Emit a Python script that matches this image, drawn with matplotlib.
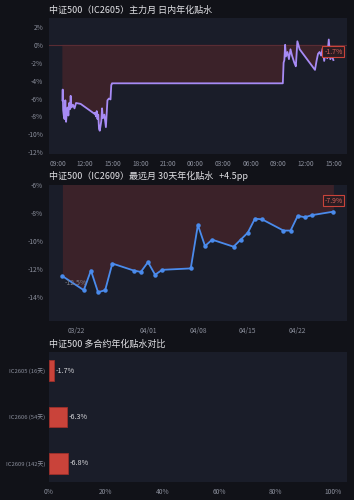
import numpy as np
import pandas as pd
import matplotlib
matplotlib.use('Agg')
import matplotlib.pyplot as plt
import matplotlib.dates as mdates
from matplotlib.ticker import FuncFormatter, MultipleLocator

plt.rcParams['font.family'] = ['Noto Sans CJK SC', 'DejaVu Sans']
plt.rcParams['axes.unicode_minus'] = False

# 颜色
BG = '#111218'
FACE = '#1a1d29'
TXT = '#e2e2e6'
TICK = '#8b8f9c'
RED = '#c9433a'
FILL = '#c0392b'

# 主力月 日内数据（两个交易日）
intra_time = [
    '04-27 09:31', '04-27 09:33', '04-27 09:36', '04-27 09:40', '04-27 09:45',
    '04-27 09:50', '04-27 09:55', '04-27 10:00', '04-27 10:05', '04-27 10:10',
    '04-27 10:15', '04-27 10:20', '04-27 10:25', '04-27 10:30', '04-27 10:40',
    '04-27 10:50', '04-27 11:00', '04-27 11:30',
    '04-27 13:00', '04-27 13:05', '04-27 13:10', '04-27 13:15', '04-27 13:20',
    '04-27 13:25', '04-27 13:30', '04-27 13:35', '04-27 13:45', '04-27 13:50',
    '04-27 13:55', '04-27 14:05', '04-27 14:15', '04-27 14:25', '04-27 14:35',
    '04-27 14:45', '04-27 14:50', '04-27 14:55', '04-27 15:00',
    '04-28 09:30', '04-28 09:35', '04-28 09:40', '04-28 09:45', '04-28 09:50',
    '04-28 10:00', '04-28 10:10', '04-28 10:20', '04-28 10:30', '04-28 10:45',
    '04-28 10:55', '04-28 11:05', '04-28 11:20',
    '04-28 13:00', '04-28 13:10', '04-28 13:20', '04-28 13:30', '04-28 13:40',
    '04-28 13:50', '04-28 14:00', '04-28 14:10', '04-28 14:20', '04-28 14:30',
    '04-28 14:40', '04-28 14:50', '04-28 15:00',
]
intra_val = [
    -6.2, -5.0, -7.3, -7.9, -8.3,
    -6.2, -8.6, -7.5, -7.0, -7.9,
    -6.5, -7.2, -5.7, -7.0, -6.7,
    -7.1, -6.5, -6.6,
    -7.7, -7.6, -8.0, -7.4, -8.3,
    -7.8, -9.4, -9.6, -8.5, -7.1,
    -8.2, -7.8, -9.2, -6.2, -6.0,
    -6.1, -4.5, -4.3, -4.3,
    -4.3, -2.0, -1.7, 0.0, -1.3,
    -0.8, -1.6, -0.5, -1.2, -2.0,
    -2.4, 0.4, -0.5,
    -2.8, -1.8, -1.0, -0.8, -1.2,
    -0.4, -1.8, -0.6, -1.5, 0.6,
    -1.6, -1.2, -1.7,
]

# 最远月 30天数据
far_date = [
    '03-20', '03-23', '03-24', '03-25', '03-26', '03-27', '03-30', '03-31',
    '04-01', '04-02', '04-03', '04-07', '04-08', '04-09', '04-10', '04-13',
    '04-14', '04-15', '04-16', '04-17', '04-20', '04-21', '04-22', '04-23',
    '04-24', '04-27',
]
far_val = [
    -12.5, -13.5, -12.1, -13.65, -13.5, -11.6, -12.1, -12.2,
    -11.5, -12.4, -12.05, -11.95, -8.85, -10.35, -9.9, -10.4,
    -9.9, -9.4, -8.4, -8.45, -9.25, -9.25, -8.2, -8.3,
    -8.15, -7.9,
]
far_change = '+4.5pp'

# 多合约对比
contracts = ['IC2605 (16天)', 'IC2606 (54天)', 'IC2609 (142天)']
contract_val = [-1.7, -6.3, -6.8]

t1 = pd.to_datetime(['2026-' + s for s in intra_time])
v1 = np.array(intra_val)
t2 = pd.to_datetime(['2026-' + s for s in far_date])
v2 = np.array(far_val)

fig = plt.figure(figsize=(3.54, 5.0), dpi=100, facecolor=BG)
ax1 = fig.add_axes([0.138, 0.692, 0.842, 0.272])
ax2 = fig.add_axes([0.138, 0.358, 0.842, 0.272])
ax3 = fig.add_axes([0.138, 0.036, 0.842, 0.260])

pct = FuncFormatter(lambda v, p: f'{v:.0f}%')

for ax in (ax1, ax2, ax3):
    ax.set_facecolor(FACE)
    for s in ax.spines.values():
        s.set_visible(False)
    ax.tick_params(colors=TICK, labelsize=4.8, length=0, pad=4)


def tag(ax, x, y, text, dy):
    ax.annotate(text, (x, y), xytext=(0, dy), textcoords='offset points',
                ha='center', va='center', fontsize=5, color='#d8625a',
                bbox=dict(boxstyle='square,pad=0.25', fc='#2a1c22', ec=RED, lw=0.8))


# 图1：日内
ax1.fill_between(t1, v1, 0, where=v1 < 0, interpolate=True, color=FILL, alpha=0.2, lw=0)
ax1.axhline(0, color='#5a2c33', lw=0.8)
ax1.plot(t1, v1, color='#a78bf5', lw=1.3)
ax1.set_ylim(-12.2, 3.0)
ax1.yaxis.set_major_locator(MultipleLocator(2))
ax1.yaxis.set_major_formatter(pct)
ax1.xaxis.set_major_locator(mdates.HourLocator(byhour=range(0, 24, 3)))
ax1.xaxis.set_major_formatter(mdates.DateFormatter('%H:%M'))
tag(ax1, t1[-1], v1[-1], f'{v1[-1]:.1f}%', 6)
ax1.set_title('中证500（IC2605）主力月 日内年化贴水', loc='left', fontsize=6.5,
              color=TXT, pad=4)

# 图2：最远月
ax2.fill_between(t2, v2, 0, color=FILL, alpha=0.2, lw=0)
ax2.plot(t2, v2, color='#4a8bec', lw=1.3, marker='o', ms=2.2)
ax2.set_ylim(-15.7, -6.0)
ax2.yaxis.set_major_locator(MultipleLocator(2))
ax2.yaxis.set_major_formatter(pct)
ax2.set_xticks(pd.to_datetime(['2026-03-22', '2026-04-01', '2026-04-08',
                               '2026-04-15', '2026-04-22']))
ax2.xaxis.set_major_formatter(mdates.DateFormatter('%m/%d'))
ax2.annotate(f'{v2[0]:.1f}%', (t2[0], v2[0]), xytext=(10, -5),
             textcoords='offset points', ha='center', va='center',
             fontsize=5, color='#7d7f88')
tag(ax2, t2[-1], v2[-1], f'{v2[-1]:.1f}%', 8)
ax2.set_title(f'中证500（IC2609）最远月 30天年化贴水   {far_change}', loc='left',
              fontsize=6.5, color=TXT, pad=4)

# 图3：多合约对比
y = np.arange(len(contracts))
widths = np.abs(contract_val)
ax3.barh(y, widths, height=0.45, color=RED, edgecolor='#9e2f2a', lw=0.6)
for yi, w, v in zip(y, widths, contract_val):
    ax3.text(w + 0.6, yi, f'{v:.1f}%', va='center', ha='left',
             fontsize=5.2, color='#d8d8dc')
ax3.set_yticks(y)
ax3.set_yticklabels(contracts, fontsize=4.2)
ax3.tick_params(axis='y', pad=2.5)
ax3.set_ylim(2.4, -0.4)
ax3.set_xlim(0, 105)
ax3.xaxis.set_major_locator(MultipleLocator(20))
ax3.xaxis.set_major_formatter(pct)
ax3.set_title('中证500 多合约年化贴水对比', loc='left', fontsize=6.5,
              color=TXT, pad=4)

fig.savefig('out.png', dpi=100, facecolor=BG)
